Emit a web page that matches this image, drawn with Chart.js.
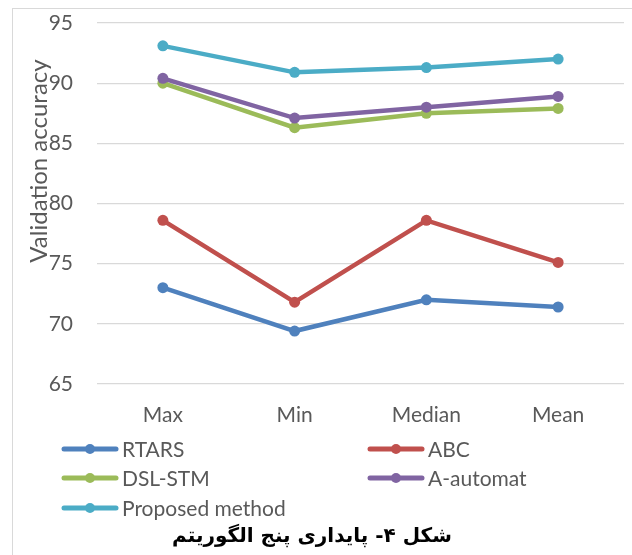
<!DOCTYPE html>
<html>
<head>
<meta charset="utf-8">
<script src="https://cdn.jsdelivr.net/npm/chart.js@4"></script>
<style>
    body { margin: 0; background: #fff; }
    #wrap { position: relative; width: 632px; height: 555px; overflow: hidden; }
    #frame {
        position: absolute; left: 12px; top: 8px; width: 700px; height: 700px;
        border-left: 1px solid #d9d9d9; border-top: 1px solid #d9d9d9;
    }
    canvas { position: absolute; left: 0; top: 0; }
</style>
</head>
<body>
<div id="wrap">
    <div id="frame"></div>
    <canvas id="chart" width="632" height="555"></canvas>
</div>
<script>
"use strict";

// Data
const categories = ["Max", "Min", "Median", "Mean"];
const seriesNames = ["RTARS", "ABC", "DSL-STM", "A-automat", "Proposed method"];
const rtars = [73.0, 69.4, 72.0, 71.4];
const abc = [78.6, 71.8, 78.6, 75.1];
const dslStm = [90.0, 86.3, 87.5, 87.9];
const aAutomat = [90.4, 87.1, 88.0, 88.9];
const proposed = [93.1, 90.9, 91.3, 92.0];
const seriesColors = ["#4f81bd", "#c0504d", "#9bbb59", "#8064a2", "#4bacc6"];
const yTitle = "Validation accuracy";
const caption = "شکل ۴- پایداری پنج الگوریتم";

const FONT = "Lato";
const TEXT = "#595959";
const FONT_SIZE = 21;

const allSeries = [rtars, abc, dslStm, aAutomat, proposed];

/**
 * Rotated y axis title, placed like the original (not centred on the axis)
 */
const yTitlePlugin = {
    id: "yTitle",
    afterDraw(chart) {
        const ctx = chart.ctx;
        ctx.save();
        ctx.translate(39, 161);
        ctx.rotate(-Math.PI / 2);
        ctx.font = `24px ${FONT}`;
        ctx.fillStyle = TEXT;
        ctx.textAlign = "center";
        ctx.textBaseline = "middle";
        ctx.fillText(yTitle, 0, 0);
        ctx.restore();
    },
};

/**
 * Two column legend with line + dot symbols
 */
const legendPlugin = {
    id: "twoColLegend",
    afterDraw(chart) {
        const ctx = chart.ctx;
        const colX = [62, 368];
        const rowY = [449, 478, 508];
        ctx.save();
        chart.data.datasets.forEach((ds, i) => {
            const x = colX[i % 2];
            const y = rowY[Math.floor(i / 2)];
            ctx.strokeStyle = ds.borderColor;
            ctx.lineWidth = 5;
            ctx.lineCap = "round";
            ctx.beginPath();
            ctx.moveTo(x + 2, y);
            ctx.lineTo(x + 54, y);
            ctx.stroke();
            ctx.fillStyle = ds.borderColor;
            ctx.beginPath();
            ctx.arc(x + 28, y, 5, 0, Math.PI * 2);
            ctx.fill();
            ctx.font = `${FONT_SIZE}px ${FONT}`;
            ctx.fillStyle = TEXT;
            ctx.textAlign = "left";
            ctx.textBaseline = "middle";
            ctx.fillText(ds.label, x + 60, y + 1);
        });
        ctx.restore();
    },
};

const datasets = seriesNames.map((name, i) => ({
    label: name,
    data: allSeries[i],
    borderColor: seriesColors[i],
    backgroundColor: seriesColors[i],
    pointBackgroundColor: seriesColors[i],
    borderWidth: 4.5,
    pointRadius: 5.5,
    pointBorderWidth: 0,
    tension: 0,
    order: seriesNames.length - i, // later series on top, like Excel
}));

new Chart(document.getElementById("chart"), {
    type: "line",
    data: { labels: categories, datasets },
    plugins: [yTitlePlugin, legendPlugin],
    options: {
        responsive: false,
        animation: false,
        devicePixelRatio: 1,
        layout: { padding: { top: 23, right: 8, left: 0, bottom: 0 } },
        plugins: {
            legend: { display: false },
            tooltip: { enabled: false },
            title: {
                display: true,
                position: "bottom",
                text: caption,
                color: "#000",
                font: { family: "DejaVu Sans", size: 20, weight: "bold" },
                padding: { top: 96, bottom: 6 },
            },
        },
        scales: {
            x: {
                offset: true,
                grid: { display: false, drawTicks: false },
                border: { display: false },
                ticks: { color: TEXT, font: { family: FONT, size: FONT_SIZE }, padding: 19 },
                afterFit: (s) => { s.height = 45; },
            },
            y: {
                min: 65,
                max: 95,
                grid: { color: "#d9d9d9", lineWidth: 1.3, drawTicks: false },
                border: { display: false },
                ticks: {
                    stepSize: 5,
                    color: TEXT,
                    font: { family: FONT, size: FONT_SIZE },
                    padding: 24,
                },
                afterFit: (s) => {
                    s.width = 97;
                    s.paddingTop = 0; // let layout.padding alone set the top
                    s.paddingBottom = 0;
                },
            },
        },
    },
});
</script>
</body>
</html>
